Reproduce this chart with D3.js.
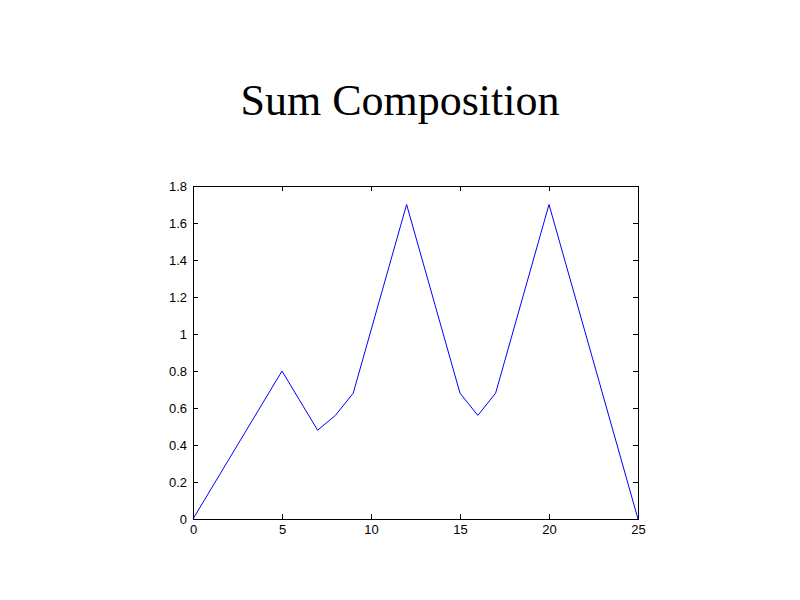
<!DOCTYPE html>
<html><head><meta charset="utf-8">
<script src="https://cdn.jsdelivr.net/npm/d3@7"></script>
<style>body{margin:0;background:#fff;} svg{display:block;}</style>
</head><body>
<script>
const xValues = [0, 5, 7, 8, 9, 12, 15, 16, 17, 20, 25];
const yValues = [0, 0.8, 0.48, 0.56, 0.68, 1.7, 0.68, 0.56, 0.68, 1.7, 0];
const xTicks = [0, 5, 10, 15, 20, 25];
const yTicks = [0, 0.2, 0.4, 0.6, 0.8, 1, 1.2, 1.4, 1.6, 1.8];
const title = "Sum Composition";

const W = 800, H = 600;
const m = {left: 193, top: 186, right: 638, bottom: 519};
const svg = d3.select("body").append("svg").attr("width", W).attr("height", H);

const x = d3.scaleLinear().domain([0, 25]).range([m.left, m.right]);
const y = d3.scaleLinear().domain([0, 1.8]).range([m.bottom, m.top]);

svg.append("text").attr("x", 400).attr("y", 115).attr("text-anchor", "middle")
  .attr("font-family", "'Liberation Serif', 'Times New Roman', serif").attr("font-size", 44)
  .attr("fill", "#000").text(title);

const font = "'Liberation Sans', Arial, sans-serif";
const tickLen = 5;
const fmt = d => String(d);

const xb = svg.append("g").attr("transform", `translate(0,${m.bottom})`)
  .call(d3.axisBottom(x).tickValues(xTicks).tickSize(-tickLen).tickPadding(6).tickFormat(fmt));
const xt = svg.append("g").attr("transform", `translate(0,${m.top})`)
  .call(d3.axisTop(x).tickValues(xTicks).tickSize(-tickLen).tickFormat(""));
const yl = svg.append("g").attr("transform", `translate(${m.left},0)`)
  .call(d3.axisLeft(y).tickValues(yTicks).tickSize(-tickLen).tickPadding(6).tickFormat(fmt));
const yr = svg.append("g").attr("transform", `translate(${m.right},0)`)
  .call(d3.axisRight(y).tickValues(yTicks).tickSize(-tickLen).tickFormat(""));

svg.selectAll("g").selectAll(".tick line").attr("stroke", "#000");
svg.selectAll("g").attr("font-family", font).attr("font-size", 13);
svg.selectAll(".tick text").attr("fill", "#000");
[xb, xt, yl, yr].forEach(g => g.select(".domain").remove());
svg.append("rect").attr("x", m.left).attr("y", m.top)
  .attr("width", m.right - m.left).attr("height", m.bottom - m.top)
  .attr("fill", "none").attr("stroke", "#000").attr("stroke-width", 1)
  .attr("shape-rendering", "crispEdges");

const data = xValues.map((v, i) => [v, yValues[i]]);
svg.append("path").datum(data)
  .attr("d", d3.line().x(d => x(d[0])).y(d => y(d[1])))
  .attr("fill", "none").attr("stroke", "#0000ff").attr("stroke-width", 1);
</script>
</body></html>
